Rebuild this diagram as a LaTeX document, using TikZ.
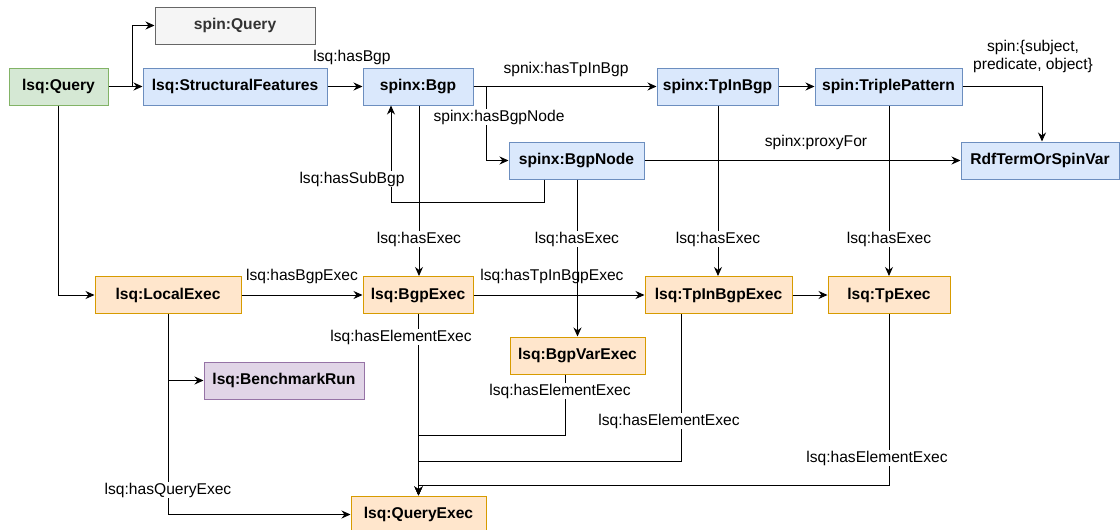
\documentclass[tikz,border=0pt]{standalone}
\usepackage{fontspec}
\setmainfont{Liberation Sans}
\usetikzlibrary{positioning, calc, arrows.meta}

\definecolor{blueF}{HTML}{DAE8FC}
\definecolor{blueD}{HTML}{6C8EBF}
\definecolor{orangeF}{HTML}{FFE6CC}
\definecolor{orangeD}{HTML}{D79B00}
\definecolor{greenF}{HTML}{D5E8D4}
\definecolor{greenD}{HTML}{82B366}
\definecolor{purpleF}{HTML}{E1D5E7}
\definecolor{purpleD}{HTML}{9673A6}
\definecolor{grayF}{HTML}{F5F5F5}
\definecolor{grayD}{HTML}{666666}
\definecolor{grayT}{HTML}{333333}

\begin{document}
\begin{tikzpicture}[x=1pt, y=-1pt,
		every node/.style={font=\fontsize{15.6pt}{18pt}\selectfont},
		cls/.style={draw, line width=1pt, minimum height=37pt, anchor=center, font=\fontsize{15.6pt}{18pt}\selectfont\bfseries},
		sclass/.style={cls, fill=blueF, draw=blueD},
		eclass/.style={cls, fill=orangeF, draw=orangeD},
		rel/.style={inner sep=1pt},
		relw/.style={rel, fill=white},
		arr/.style={line width=1pt, -{Stealth[length=9pt, width=8pt]}}]
	\useasboundingbox (0,0) rectangle (1120,530);

	% classes
	\node[cls, fill=greenF, draw=greenD, minimum width=99pt] (query) at (58.5,86.5) {lsq:Query};
	\node[cls, fill=grayF, draw=grayD, text=grayT, minimum width=160pt] (spinquery) at (235,25.5) {spin:Query};
	\node[sclass, minimum width=184pt] (sf) at (235,86.5) {lsq:StructuralFeatures};
	\node[sclass, minimum width=110pt] (bgp) at (418,86.5) {spinx:Bgp};
	\node[sclass, minimum width=121pt] (tpinbgp) at (717.5,86.5) {spinx:TpInBgp};
	\node[sclass, minimum width=147pt] (tp) at (888.5,86.5) {spin:TriplePattern};
	\node[sclass, minimum width=135pt] (bgpnode) at (576.5,160.5) {spinx:BgpNode};
	\node[sclass, minimum width=158pt] (rdf) at (1040,160.5) {RdfTermOrSpinVar};

	% executions
	\node[eclass, minimum width=146pt] (localexec) at (168,295) {lsq:LocalExec};
	\node[eclass, minimum width=110pt] (bgpexec) at (418,295) {lsq:BgpExec};
	\node[eclass, minimum width=147pt] (tpinbgpexec) at (718.5,295) {lsq:TpInBgpExec};
	\node[eclass, minimum width=122pt] (tpexec) at (889,295) {lsq:TpExec};
	\node[eclass, minimum width=135pt] (bgpvarexec) at (577.5,355.5) {lsq:BgpVarExec};
	\node[cls, fill=purpleF, draw=purpleD, minimum width=160pt] (bench) at (284,380.5) {lsq:BenchmarkRun};
	\node[eclass, minimum width=135pt] (queryexec) at (418.5,514.5) {lsq:QueryExec};

	% structural edges
	\draw[arr] (query.east) -- (sf.west);
	\draw[arr] (query.east) -- ++(24,0) |- (spinquery.west);
	\draw[arr] (query.south) |- (localexec.west);
	\draw[arr] (sf.east) -- (bgp.west);
	\draw[arr] (bgp.east) -- (tpinbgp.west);
	\draw[arr] (bgp.east) -- ++(13,0) |- (bgpnode.west);
	\draw[arr] ([xshift=-32.5pt]bgpnode.south) -- ++(0,23) -| ([xshift=-27pt]bgp.south);
	\draw[arr] (bgpnode.east) -- (rdf.west);
	\draw[arr] (tpinbgp.east) -- (tp.west);
	\draw[arr] (tp.east) -| ([xshift=2pt]rdf.north);

	% hasExec
	\draw[arr] ([xshift=1pt]bgp.south) -- ([xshift=1pt]bgpexec.north);
	\draw[arr] ([xshift=1pt]bgpnode.south) -- (bgpvarexec.north);
	\draw[arr] ([xshift=0.5pt]tpinbgp.south) -- ([xshift=-0.5pt]tpinbgpexec.north);
	\draw[arr] ([xshift=0.5pt]tp.south) -- (tpexec.north);

	% execution edges
	\draw[arr] (localexec.east) -- (bgpexec.west);
	\draw[arr] (bgpexec.east) -- (tpinbgpexec.west);
	\draw[arr] (tpinbgpexec.east) -- (tpexec.west);
	\draw[arr] (localexec.south) |- (bench.west);
	\draw[arr] (localexec.south) |- (queryexec.west);
	\draw[arr] ([xshift=0.5pt]bgpexec.south) -- (queryexec.north);
	\draw[arr] ([xshift=-12.5pt]bgpvarexec.south) -- ++(0,61) -| (queryexec.north);
	\draw[arr] ([xshift=-37pt]tpinbgpexec.south) -- ++(0,147) -| (queryexec.north);
	\draw[arr] (tpexec.south) -- ++(0,171) -| (queryexec.north);

	% labels
	\node[rel] (lhasbgp) at (352,57) {lsq:hasBgp};
	\node[rel] (lhastp) at (566,69) {spnix:hasTpInBgp};
	\node[relw] (lhasnode) at (499,117) {spinx:hasBgpNode};
	\node[relw] (lhassub) at (352,179) {lsq:hasSubBgp};
	\node[rel] (lproxy) at (816,142) {spinx:proxyFor};
	\node[rel, align=center] (lspo) at (1033,56.5) {spin:\{subject,\\predicate, object\}};
	\foreach \x/\n in {419/a, 577/b, 718/c, 889/d}
		\node[relw] (lexec\n) at (\x,239) {lsq:hasExec};
	\node[rel] (lbgpexec) at (302,276) {lsq:hasBgpExec};
	\node[rel] (ltpexec) at (552,276) {lsq:hasTpInBgpExec};
	\node[relw] (lelema) at (401,337) {lsq:hasElementExec};
	\node[relw] (lelemb) at (560,391) {lsq:hasElementExec};
	\node[relw] (lelemc) at (669,421) {lsq:hasElementExec};
	\node[relw] (lelemd) at (877,458) {lsq:hasElementExec};
	\node[relw] (lqexec) at (168,490) {lsq:hasQueryExec};
\end{tikzpicture}
\end{document}
